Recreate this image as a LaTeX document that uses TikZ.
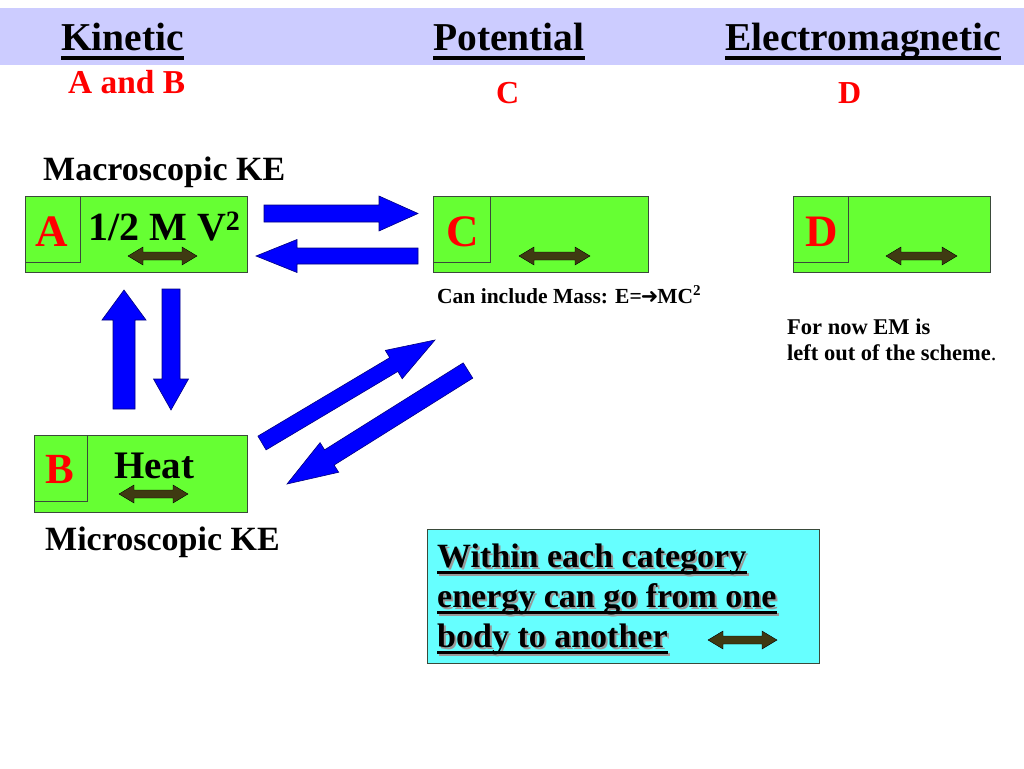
\documentclass[tikz,border=0pt]{standalone}
\usepackage{fontspec}
\setmainfont{Liberation Serif}
\newfontfamily\symfont{DejaVu Sans}
\usetikzlibrary{calc}
\definecolor{hdrbg}{HTML}{CCCCFF}
\definecolor{boxgreen}{HTML}{66FF33}
\definecolor{boxline}{HTML}{3A4A3A}
\definecolor{bigblue}{HTML}{0000FF}
\definecolor{blueline}{HTML}{000080}
\definecolor{olive}{HTML}{3F3A12}
\definecolor{lightcyan}{HTML}{66FFFF}
\definecolor{redtxt}{HTML}{FF0000}
\newcommand\fs[1]{\fontsize{#1}{#1}\selectfont}
% single block arrow: tail, head, shaft half width, head half width, head length, style
\newcommand\blockarr[6]{%
  \coordinate (bbase) at ($(#2)!#5!(#1)$);
  \path[#6] ($(#1)!#3!90:(#2)$) -- ($(bbase)!#3!90:(#2)$) -- ($(bbase)!#4!90:(#2)$) -- (#2)
    -- ($(bbase)!#4!-90:(#2)$) -- ($(bbase)!#3!-90:(#2)$) -- ($(#1)!#3!-90:(#2)$) -- cycle;}
% double block arrow
\newcommand\dblarr[6]{%
  \coordinate (dbA) at ($(#2)!#5!(#1)$);
  \coordinate (dbB) at ($(#1)!#5!(#2)$);
  \path[#6] (#1) -- ($(dbB)!#4!90:(#2)$) -- ($(dbB)!#3!90:(#2)$) -- ($(dbA)!#3!90:(#2)$)
    -- ($(dbA)!#4!90:(#2)$) -- (#2) -- ($(dbA)!#4!-90:(#2)$) -- ($(dbA)!#3!-90:(#2)$)
    -- ($(dbB)!#3!-90:(#2)$) -- ($(dbB)!#4!-90:(#2)$) -- cycle;}
\tikzset{
  txt/.style={inner sep=0pt, anchor=base west, font=\bfseries},
  hdr/.style={txt, font=\bfseries\fs{39.5}},
  redl/.style={txt, text=redtxt},
  uline/.style={line width=3pt},
  greenbox/.style={draw=boxline, line width=1.2pt, fill=boxgreen, anchor=north west, inner sep=0pt},
  innerbox/.style={draw=boxline, line width=0.9pt, anchor=north west, inner sep=0pt},
  bluearrow/.style={fill=bigblue, draw=blueline, line width=0.6pt},
  olivearrow/.style={fill=olive, draw=black, line width=0.4pt},
}
\begin{document}
\begin{tikzpicture}[x=1pt,y=-1pt]
\useasboundingbox (0,0) rectangle (1024,768);
\fill[white] (0,0) rectangle (1024,768);
% header band
\fill[hdrbg] (0,8) rectangle (1024,65);
\node[hdr] (kin) at (61,51) {Kinetic\ };
\node[hdr] (pot) at (433,51) {Potential};
\node[hdr] (emg) at (725,51) {Electromagnetic};
\foreach \n in {kin,pot,emg}
  \draw[uline] ($(\n.base west)+(0,7)$) -- ($(\n.base east)+(0,7)$);
\node[redl, font=\bfseries\fs{33.4}] (AB) at (68,93) {A and B};
\node[redl, font=\bfseries\fs{32}] (Ch) at (496,103) {C};
\node[redl, font=\bfseries\fs{32}] (Dh) at (838,103) {D};
% labels
\node[txt, font=\bfseries\fs{34}] (macro) at (43,180) {Macroscopic KE};
\node[txt, font=\bfseries\fs{34}] (micro) at (45,550) {Microscopic KE};
% boxes
\node[greenbox, minimum width=222pt, minimum height=76pt] (A) at (25,196) {};
\node[innerbox, minimum width=55pt, minimum height=66pt] (Ai) at (25,196) {};
\node[greenbox, minimum width=215pt, minimum height=76pt] (C) at (433,196) {};
\node[innerbox, minimum width=57pt, minimum height=66pt] (Ci) at (433,196) {};
\node[greenbox, minimum width=197pt, minimum height=76pt] (D) at (793,196) {};
\node[innerbox, minimum width=55pt, minimum height=66pt] (Di) at (793,196) {};
\node[greenbox, minimum width=213pt, minimum height=77pt] (B) at (34,435) {};
\node[innerbox, minimum width=53pt, minimum height=66pt] (Bi) at (34,435) {};
\node[redl, font=\bfseries\fs{45}] (Al) at (35,246) {A};
\node[redl, font=\bfseries\fs{45}] (Cl) at (446,246) {C};
\node[redl, font=\bfseries\fs{45}] (Dl) at (805,246) {D};
\node[redl, font=\bfseries\fs{43}] (Bl) at (45,483) {B};
\node[txt, font=\bfseries\fs{40}] (mv) at (88,240) {1/2 M V\textsuperscript{2}};
\node[txt, font=\bfseries\fs{39}] (heat) at (114,478) {Heat};
% small double arrows
\coordinate (a1) at (128,256); \coordinate (a2) at (197,256);
\coordinate (c1) at (519,256); \coordinate (c2) at (590,256);
\coordinate (d1) at (886,256); \coordinate (d2) at (957,256);
\coordinate (b1) at (119,494); \coordinate (b2) at (188,494);
\coordinate (e1) at (708,640); \coordinate (e2) at (777,640);
\dblarr{a1}{a2}{4pt}{9pt}{15pt}{olivearrow}
\dblarr{c1}{c2}{4pt}{9pt}{15pt}{olivearrow}
\dblarr{d1}{d2}{4pt}{9pt}{15pt}{olivearrow}
\dblarr{b1}{b2}{4pt}{9pt}{15pt}{olivearrow}
% big blue arrows
\coordinate (ACt) at (264,213.5); \coordinate (ACh) at (418,213.5);
\coordinate (CAt) at (418,256); \coordinate (CAh) at (256,256);
\coordinate (BAt) at (124,409); \coordinate (BAh) at (124,290);
\coordinate (ABt) at (171,289); \coordinate (ABh) at (171,410);
\coordinate (BCt) at (262,443); \coordinate (BCh) at (435,340);
\coordinate (CBt) at (468,370.5); \coordinate (CBh) at (287,484);
\blockarr{ACt}{ACh}{8.5pt}{17.5pt}{39pt}{bluearrow}
\blockarr{CAt}{CAh}{8pt}{16.5pt}{41pt}{bluearrow}
\blockarr{BAt}{BAh}{11pt}{22pt}{30pt}{bluearrow}
\blockarr{ABt}{ABh}{9pt}{17.5pt}{31pt}{bluearrow}
\blockarr{BCt}{BCh}{8pt}{16.5pt}{48pt}{bluearrow}
\blockarr{CBt}{CBh}{9pt}{17.5pt}{50pt}{bluearrow}
% notes
\node[txt, font=\bfseries\fs{21.5}] (mass) at (437,303) {Can include Mass: E=\kern-1pt{\symfont\bfseries\fs{21}➜}\kern-1pt MC\textsuperscript{2}};
\node[txt, font=\bfseries\fs{22.5}] (em1) at (787,334) {For now EM is};
\node[txt, font=\bfseries\fs{22.5}] (em2) at (787,360) {left out of the scheme{\mdseries .}};
% cyan box
\node[draw=boxline, line width=1pt, fill=lightcyan, anchor=north west, inner sep=0pt,
      minimum width=392pt, minimum height=134pt] (note) at (427,529) {};
\foreach \t/\y/\nm in {Within each category/567/w1, energy can go from one/607/w2, body to another/647/w3}{
  \node[txt, font=\bfseries\fs{34}, text=black!40] (\nm s) at (439,\y+2) {\t};
  \draw[line width=3pt, black!40] ($(\nm s.base west)+(0,5)$) -- ($(\nm s.base east)+(0,5)$);
  \node[txt, font=\bfseries\fs{34}] (\nm) at (437,\y) {\t};
  \draw[line width=3pt] ($(\nm.base west)+(0,5)$) -- ($(\nm.base east)+(0,5)$);
}
\dblarr{e1}{e2}{4pt}{9pt}{15pt}{olivearrow}
\end{tikzpicture}
\end{document}
